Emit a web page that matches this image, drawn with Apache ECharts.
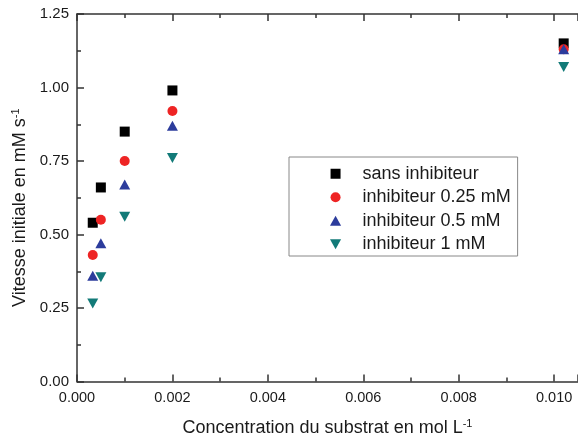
<!DOCTYPE html>
<html>
<head>
<meta charset="utf-8">
<script src="https://cdn.jsdelivr.net/npm/echarts@6/dist/echarts.min.js"></script>
<style>
html,body{margin:0;padding:0;background:#fff;}
#chart{width:578px;height:442px;}
</style>
</head>
<body>
<div id="chart"></div>
<script>
// Substrate concentration (mol/L)
const concentrations = [0.00033, 0.0005, 0.001, 0.002, 0.0102];
// Initial rates (mM/s)
const sansInhibiteur = [0.54, 0.66, 0.85, 0.99, 1.15];
const inhibiteur025 = [0.43, 0.55, 0.75, 0.92, 1.13];
const inhibiteur05 = [0.36, 0.47, 0.67, 0.87, 1.13];
const inhibiteur1 = [0.265, 0.355, 0.56, 0.76, 1.07];
const seriesNames = ['sans inhibiteur', 'inhibiteur 0.25 mM', 'inhibiteur 0.5 mM', 'inhibiteur 1 mM'];
const xTickLabels = ['0.000', '0.002', '0.004', '0.006', '0.008', '0.010'];
const yTickLabels = ['0.00', '0.25', '0.50', '0.75', '1.00', '1.25'];

const FONT = '"Liberation Sans", Arial, sans-serif';
const axisColor = '#333';
const textColor = '#1a1a1a';

const SQUARE = 'path://M0,0 L10,0 L10,10 L0,10 Z';
const UP_TRI = 'path://M5,0 L10,9 L0,9 Z';
const DOWN_TRI = 'path://M0,0 L10,0 L5,9 Z';

function pairs(ys) { return concentrations.map((x, i) => [x, ys[i]]); }

const chart = echarts.init(document.getElementById('chart'), null, {renderer: 'canvas'});

const xCommon = {
  type: 'value', min: 0, max: 0.0105, interval: 0.002,
  axisLine: {show: true, onZero: false, lineStyle: {color: axisColor, width: 1.5}},
  axisTick: {show: true, inside: true, length: 7, lineStyle: {color: axisColor, width: 1.5}},
  minorTick: {show: true, splitNumber: 2, length: 4, lineStyle: {color: axisColor, width: 1.5}},
  splitLine: {show: false},
  minorSplitLine: {show: false}
};

const supStyle = {fontSize: 11, verticalAlign: 'top', fontFamily: FONT, color: textColor, padding: [0, 0, 8, 0]};

chart.setOption({
  animation: false,
  grid: {left: 77, top: 14, right: -5, bottom: 59, containLabel: false},
  xAxis: [
    Object.assign({}, xCommon, {
      position: 'bottom',
      name: 'Concentration du substrat en mol L{sup|-1}',
      nameLocation: 'middle',
      nameGap: 37,
      nameTextStyle: {fontFamily: FONT, fontSize: 18, color: textColor, rich: {sup: supStyle}},
      axisLabel: {
        fontFamily: FONT, fontSize: 14.5, color: textColor, margin: 9, showMaxLabel: false,
        formatter: function (v) {
          const idx = Math.round(v / 0.002);
          if (Math.abs(v - idx * 0.002) > 1e-9) return '';
          return xTickLabels[idx] || '';
        }
      }
    }),
    Object.assign({}, xCommon, {
      position: 'top',
      axisLabel: {show: false}
    })
  ],
  yAxis: {
    type: 'value', min: 0, max: 1.25, interval: 0.25,
    name: 'Vitesse initiale en mM s{sup|-1}',
    nameLocation: 'middle',
    nameGap: 45,
    nameTextStyle: {fontFamily: FONT, fontSize: 18, color: textColor, padding: [0, 20, 0, 0], rich: {sup: supStyle}},
    axisLine: {show: true, lineStyle: {color: axisColor, width: 1.5}},
    axisTick: {show: true, inside: true, length: 7, lineStyle: {color: axisColor, width: 1.5}},
    minorTick: {show: true, splitNumber: 2, length: 4, lineStyle: {color: axisColor, width: 1.5}},
    splitLine: {show: false},
    axisLabel: {
      fontFamily: FONT, fontSize: 15, color: textColor, margin: 8,
      formatter: function (v) { return yTickLabels[Math.round(v / 0.25)] || ''; }
    }
  },
  legend: {
    orient: 'vertical', left: 289, top: 157,
    padding: [5, 7, 0, 41],
    itemWidth: 44, itemHeight: 10, itemGap: 0,
    borderColor: '#888', borderWidth: 1,
    textStyle: {fontFamily: FONT, fontSize: 18, color: textColor, lineHeight: 23.5},
    data: [
      {name: seriesNames[0], icon: SQUARE},
      {name: seriesNames[1], icon: 'circle'},
      {name: seriesNames[2], icon: UP_TRI},
      {name: seriesNames[3], icon: DOWN_TRI}
    ]
  },
  series: [
    {name: seriesNames[0], type: 'scatter', data: pairs(sansInhibiteur), symbol: 'rect', symbolSize: 10,
     itemStyle: {color: '#000000', opacity: 1}},
    {name: seriesNames[1], type: 'scatter', data: pairs(inhibiteur025), symbol: 'circle', symbolSize: 10,
     itemStyle: {color: '#ee2424', opacity: 1}},
    {name: seriesNames[2], type: 'scatter', data: pairs(inhibiteur05), symbol: UP_TRI, symbolSize: [11, 10],
     itemStyle: {color: '#2c3c9c', opacity: 1}},
    {name: seriesNames[3], type: 'scatter', data: pairs(inhibiteur1), symbol: DOWN_TRI, symbolSize: [11, 10],
     itemStyle: {color: '#127a78', opacity: 1}}
  ]
});
</script>
</body>
</html>
